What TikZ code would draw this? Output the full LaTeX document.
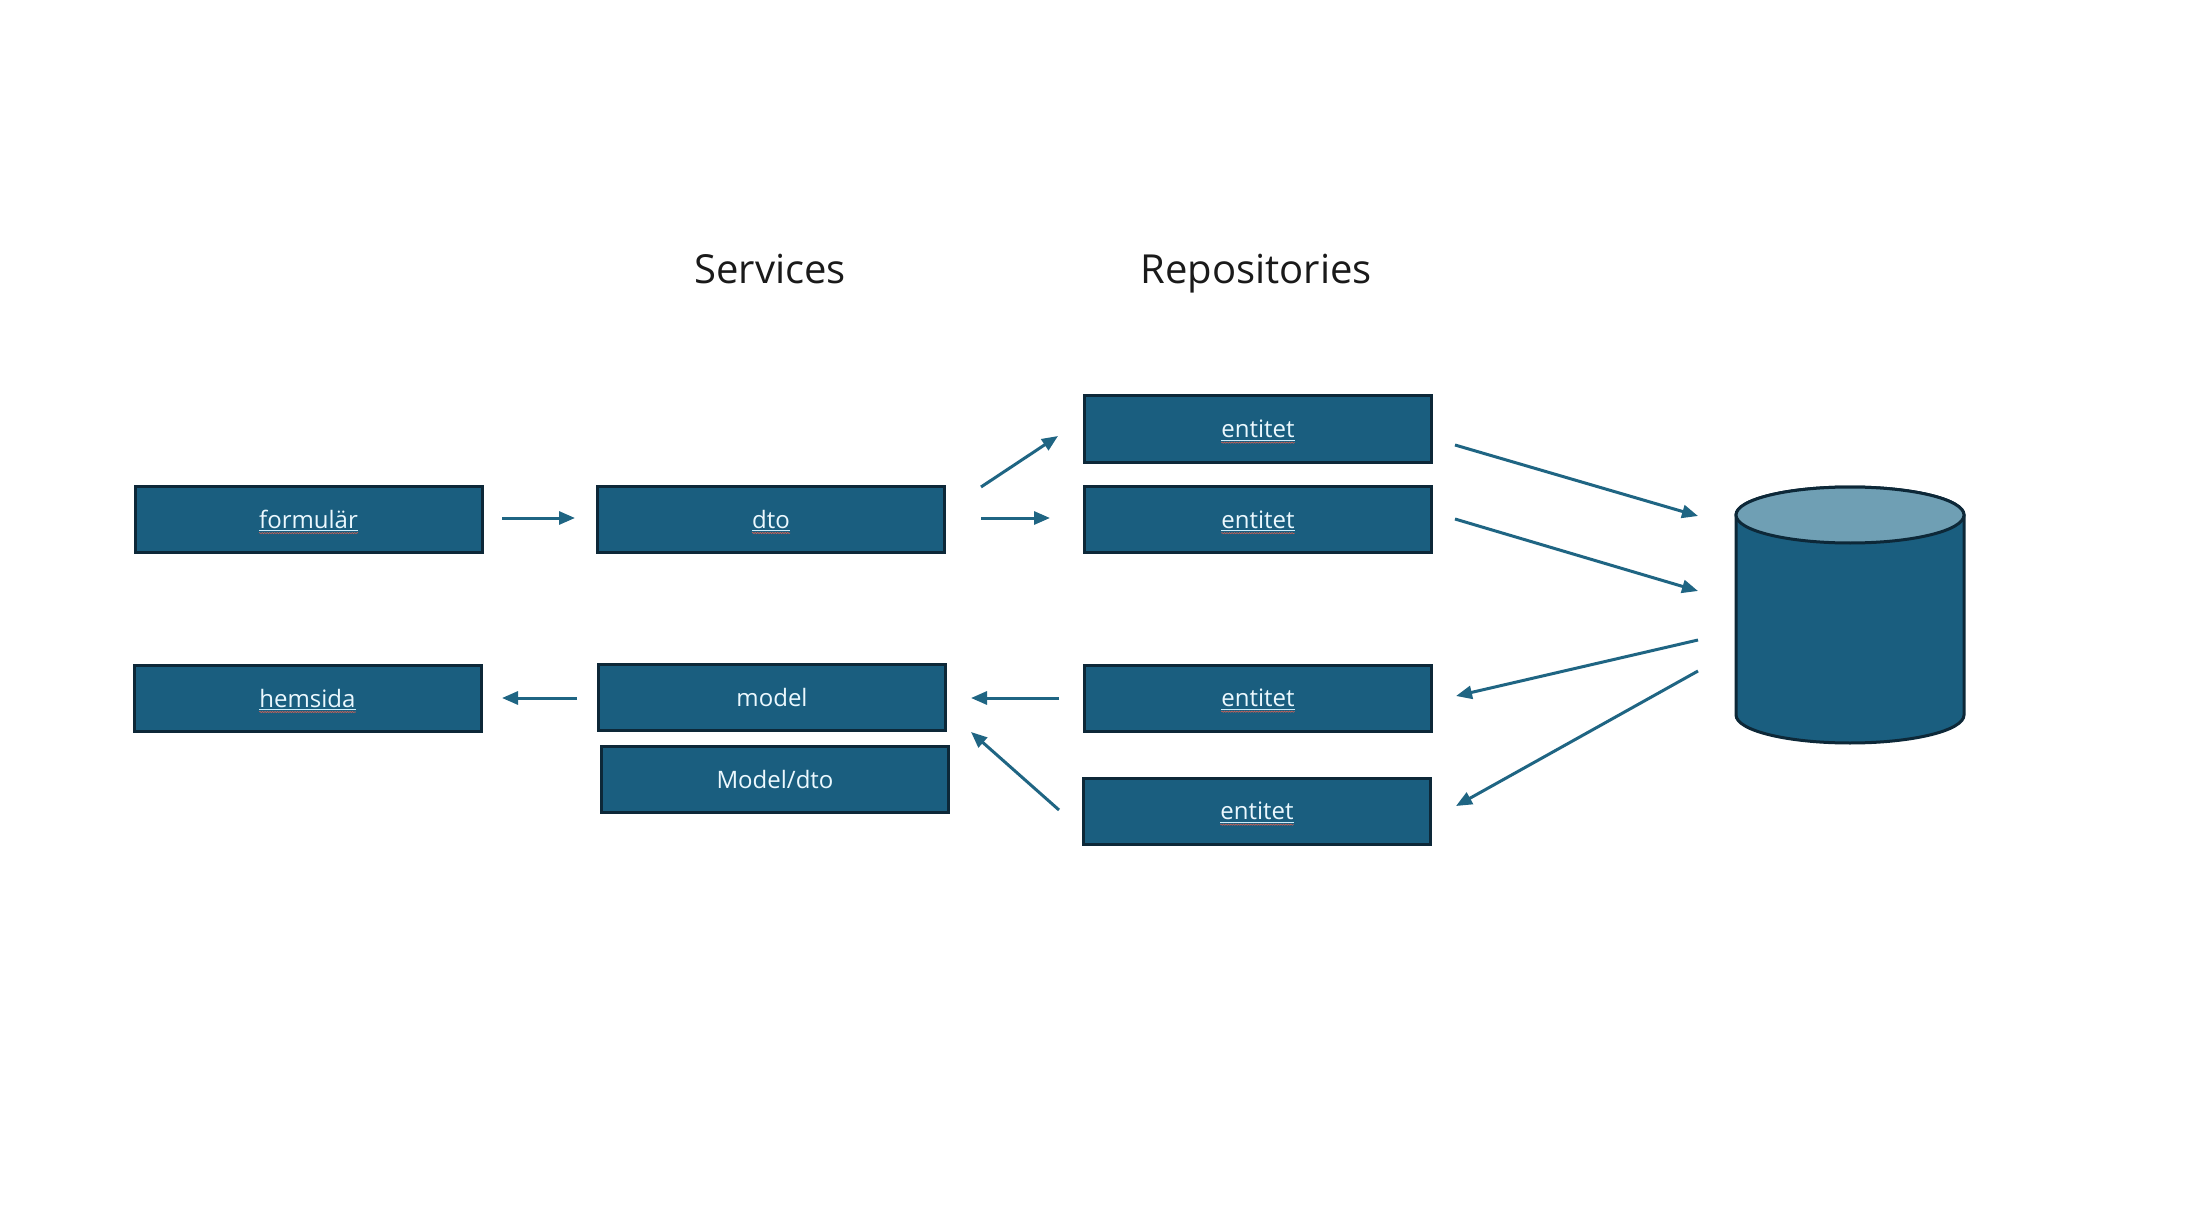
\documentclass[tikz,border=0pt]{standalone}
\usepackage{fontspec}
\setmainfont{Open Sans}
\usetikzlibrary{arrows.meta,decorations.pathmorphing}
\definecolor{boxfill}{HTML}{1A5E7F}
\definecolor{boxline}{HTML}{0D2838}
\definecolor{arrowc}{HTML}{1F6583}
\definecolor{cyltop}{HTML}{6F9FB4}
\definecolor{squig}{HTML}{C0392B}
\definecolor{titlec}{HTML}{1A1A1A}
\tikzset{
  boxst/.style={draw=boxline, line width=3pt, fill=boxfill, minimum width=347pt, minimum height=66pt, inner sep=0pt},
  boxtxt/.style={text=white!92!cyan, font=\fontsize{24}{28}\selectfont, inner sep=0pt},
  titlest/.style={text=titlec, font=\fontsize{40}{46}\selectfont, inner sep=0pt, anchor=base},
  conn/.style={draw=arrowc, line width=3pt, -{Triangle[length=16pt,width=13pt]}},
  squigst/.style={draw=squig!80, line width=0.6pt, decorate, decoration={snake, amplitude=0.6pt, segment length=2.5pt}},
  ulst/.style={draw=white!80!cyan, line width=0.8pt},
  cylst/.style={draw=boxline, line width=3pt}
}
\newcommand\spellmark[1]{%
  \draw[ulst] ([yshift=-2.5pt]#1.base west) -- ([yshift=-2.5pt]#1.base east);
  \draw[squigst] ([yshift=-5pt]#1.base west) -- ([yshift=-5pt]#1.base east);}
\begin{document}
\begin{tikzpicture}[x=1pt,y=-1pt]
\useasboundingbox[fill=white] (0,0) rectangle (2206,1222);

% titles
\node[titlest] (services) at (770,284) {Services};
\node[titlest] (repos) at (1256,284) {Repositories};

% boxes
\node[boxst] (formular) at (308.5,519) {};
\node[boxtxt] (formulart) at (formular.center) {formulär};
\node[boxst] (dto) at (771,519) {};
\node[boxtxt] (dtot) at (dto.center) {dto};
\node[boxst] (hemsida) at (307.5,698) {};
\node[boxtxt] (hemsidat) at (hemsida.center) {hemsida};
\node[boxst] (model) at (772,697.5) {};
\node[boxtxt] (modelt) at (model.center) {model};
\node[boxst] (modeldto) at (775,779.5) {};
\node[boxtxt] (modeldtot) at (modeldto.center) {Model/dto};
\node[boxst] (ent1) at (1258,429) {};
\node[boxtxt] (ent1t) at (ent1.center) {entitet};
\node[boxst] (ent2) at (1258,519.5) {};
\node[boxtxt] (ent2t) at (ent2.center) {entitet};
\node[boxst] (ent3) at (1258,698) {};
\node[boxtxt] (ent3t) at (ent3.center) {entitet};
\node[boxst] (ent4) at (1257,811) {};
\node[boxtxt] (ent4t) at (ent4.center) {entitet};

\spellmark{formulart}
\spellmark{dtot}
\spellmark{hemsidat}
\spellmark{ent1t}
\spellmark{ent2t}
\spellmark{ent3t}
\spellmark{ent4t}

% database (cylinder)
\path[cylst, fill=boxfill] (1736pt,-515pt) -- (1736pt,-715pt)
  arc[start angle=180, end angle=360, x radius=114pt, y radius=28pt]
  -- (1964pt,-515pt)
  arc[start angle=0, end angle=180, x radius=114pt, y radius=28pt] -- cycle;
\draw[cylst, fill=cyltop] (1850pt,-515pt) ellipse [x radius=114pt, y radius=28pt];
\coordinate (db) at (1850,615);

% connector end points
\coordinate (a1s) at (502,518);  \coordinate (a1e) at (575,518);
\coordinate (a2s) at (981,487);  \coordinate (a2e) at (1058,436);
\coordinate (a3s) at (981,518);  \coordinate (a3e) at (1050,518);
\coordinate (a4s) at (577,698);  \coordinate (a4e) at (502,698);
\coordinate (a5s) at (1059,698); \coordinate (a5e) at (971,698);
\coordinate (a6s) at (1059,810); \coordinate (a6e) at (971,732);
\coordinate (a7s) at (1455,445); \coordinate (a7e) at (1698,516);
\coordinate (a8s) at (1455,519); \coordinate (a8e) at (1698,591);
\coordinate (a9s) at (1698,640); \coordinate (a9e) at (1456,696);
\coordinate (a10s) at (1698,671); \coordinate (a10e) at (1456,806);

\draw[conn] (a1s) -- (a1e);
\draw[conn] (a2s) -- (a2e);
\draw[conn] (a3s) -- (a3e);
\draw[conn] (a4s) -- (a4e);
\draw[conn] (a5s) -- (a5e);
\draw[conn] (a6s) -- (a6e);
\draw[conn] (a7s) -- (a7e);
\draw[conn] (a8s) -- (a8e);
\draw[conn] (a9s) -- (a9e);
\draw[conn] (a10s) -- (a10e);
\end{tikzpicture}
\end{document}
